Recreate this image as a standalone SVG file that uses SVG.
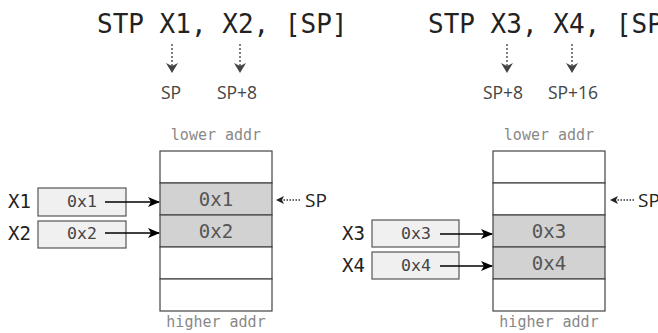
<svg xmlns="http://www.w3.org/2000/svg" width="658" height="333" viewBox="0 0 658 333">
<defs>
<style>
.title{font-family:"DejaVu Sans Mono","Liberation Mono",monospace;font-size:26px;fill:#222}
.lbl{font-family:"Open Sans","Liberation Sans",sans-serif;font-size:17.5px;fill:#444;text-anchor:middle}
.sp{font-family:"Open Sans","Liberation Sans",sans-serif;font-size:19px;fill:#222}
.reg{font-family:"DejaVu Sans Mono","Liberation Mono",monospace;font-size:19px;fill:#222}
.val{font-family:"DejaVu Sans Mono","Liberation Mono",monospace;font-size:16.5px;fill:#444;text-anchor:middle}
.cellv{font-family:"DejaVu Sans Mono","Liberation Mono",monospace;font-size:19px;fill:#555;text-anchor:middle}
.addr{font-family:"DejaVu Sans Mono","Liberation Mono",monospace;font-size:15px;fill:#888;text-anchor:middle}
.cell{fill:#fff;stroke:#444;stroke-width:1.2}
.cellg{fill:#d2d2d2;stroke:#444;stroke-width:1.2}
.box{fill:#f0f0f0;stroke:#555;stroke-width:1.2}
.dot{stroke:#555;stroke-width:1.5;stroke-dasharray:2 2;fill:none}
.solid{stroke:#000;stroke-width:1.7;fill:none}
</style>
<marker id="hd" viewBox="0 0 12 10" refX="11" refY="5" markerWidth="12" markerHeight="10" markerUnits="userSpaceOnUse" orient="auto">
<path d="M0,0 L12,5 L0,10 L3,5 Z" fill="#000"/>
</marker>
<marker id="hdot" viewBox="0 0 10 12" refX="9" refY="6" markerWidth="10" markerHeight="12" markerUnits="userSpaceOnUse" orient="auto">
<path d="M0,0 L10,6 L0,12 L3,6 Z" fill="#444"/>
</marker>
<marker id="hsp" viewBox="0 0 8 8" refX="7" refY="4" markerWidth="8" markerHeight="8" markerUnits="userSpaceOnUse" orient="auto">
<path d="M0,0 L8,4 L0,8 L2,4 Z" fill="#222"/>
</marker>
</defs>

<g id="title1"><text class="title" x="97" y="33">STP X1, X2, [SP]</text></g>
<g id="title2"><text class="title" x="428" y="33">STP X3, X4, [SP</text></g>

<g id="lab-sp"><text class="lbl" x="171" y="99">SP</text></g>
<g id="lab-sp8a"><text class="lbl" x="237" y="99">SP+8</text></g>
<g id="lab-sp8b"><text class="lbl" x="503" y="99">SP+8</text></g>
<g id="lab-sp16"><text class="lbl" x="573" y="99">SP+16</text></g>

<g id="stack1">
<text class="addr" x="216" y="140">lower addr</text>
<rect class="cell" x="160" y="151" width="112" height="32"/>
<rect class="cellg" x="160" y="183" width="112" height="32"/>
<rect class="cellg" x="160" y="215" width="112" height="32"/>
<rect class="cell" x="160" y="247" width="112" height="32"/>
<rect class="cell" x="160" y="279" width="112" height="32"/>
<text class="cellv" x="216" y="206">0x1</text>
<text class="cellv" x="216" y="238">0x2</text>
<text class="addr" x="216" y="327">higher addr</text>
</g>

<g id="stack2">
<text class="addr" x="549" y="140">lower addr</text>
<rect class="cell" x="493" y="151" width="112" height="32"/>
<rect class="cell" x="493" y="183" width="112" height="32"/>
<rect class="cellg" x="493" y="215" width="112" height="32"/>
<rect class="cellg" x="493" y="247" width="112" height="32"/>
<rect class="cell" x="493" y="279" width="112" height="32"/>
<text class="cellv" x="549" y="238">0x3</text>
<text class="cellv" x="549" y="270">0x4</text>
<text class="addr" x="549" y="327">higher addr</text>
</g>

<g id="regX1"><text class="reg" x="8" y="208">X1</text><rect class="box" x="38" y="188" width="88" height="28"/><text class="val" x="82" y="207">0x1</text></g>
<g id="regX2"><text class="reg" x="8" y="240">X2</text><rect class="box" x="38" y="221" width="88" height="27"/><text class="val" x="82" y="239">0x2</text></g>
<g id="regX3"><text class="reg" x="342" y="240">X3</text><rect class="box" x="372" y="220" width="87" height="27"/><text class="val" x="416" y="239">0x3</text></g>
<g id="regX4"><text class="reg" x="342" y="272">X4</text><rect class="box" x="372" y="252" width="87" height="27"/><text class="val" x="416" y="271">0x4</text></g>

<g id="spmark1"><text class="sp" x="305" y="207">SP</text></g>
<g id="spmark2"><text class="sp" x="638" y="207">SP</text></g>

<g id="connectors">
<line class="dot" x1="172" y1="44" x2="172" y2="72" marker-end="url(#hdot)"/>
<line class="dot" x1="240" y1="44" x2="240" y2="72" marker-end="url(#hdot)"/>
<line class="dot" x1="507" y1="44" x2="507" y2="72" marker-end="url(#hdot)"/>
<line class="dot" x1="572" y1="44" x2="572" y2="72" marker-end="url(#hdot)"/>
<line class="solid" x1="105" y1="202" x2="159" y2="202" marker-end="url(#hd)"/>
<line class="solid" x1="105" y1="233" x2="159" y2="233" marker-end="url(#hd)"/>
<line class="solid" x1="440" y1="234" x2="492" y2="234" marker-end="url(#hd)"/>
<line class="solid" x1="440" y1="266" x2="492" y2="266" marker-end="url(#hd)"/>
<line x1="300" y1="200" x2="277" y2="200" stroke="#333" stroke-width="1.3" stroke-dasharray="1.5 1.5" marker-end="url(#hsp)"/>
<line x1="634" y1="200" x2="611" y2="200" stroke="#333" stroke-width="1.3" stroke-dasharray="1.5 1.5" marker-end="url(#hsp)"/>
</g>
</svg>
